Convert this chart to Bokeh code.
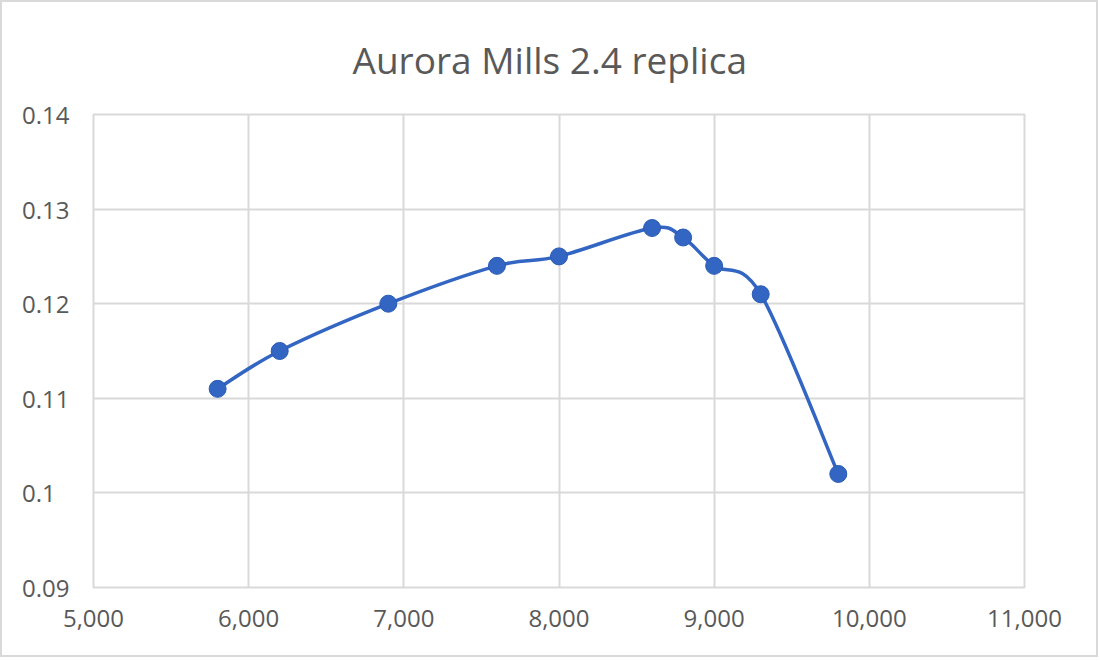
from bokeh.plotting import figure
from bokeh.embed import file_html
from bokeh.resources import INLINE
from bokeh.models import FixedTicker, NumeralTickFormatter, Range1d

title_text = "Aurora Mills 2.4 replica"
rpm = [5800, 6200, 6900, 7600, 8000, 8600, 8800, 9000, 9300, 9800]
value = [0.111, 0.115, 0.120, 0.124, 0.125, 0.128, 0.127, 0.124, 0.121, 0.102]
x_ticks = [5000, 6000, 7000, 8000, 9000, 10000, 11000]
y_ticks = [0.09, 0.10, 0.11, 0.12, 0.13, 0.14]

FONT = "Open Sans"
GRID = "#d9d9d9"
TXT = "#595959"
BLUE = "#3266c2"

p = figure(width=1098, height=657, output_backend="svg", toolbar_location=None,
           x_range=Range1d(5000, 11000), y_range=Range1d(0.09, 0.14),
           min_border_left=91, min_border_right=76, min_border_top=112, min_border_bottom=72)
p.styles = {"border": "2px solid #d9d9d9", "box-sizing": "border-box"}

p.title.text = title_text
p.title.align = "left"
p.title.text_font = FONT
p.title.text_font_size = "37px"
p.title.text_font_style = "normal"
p.title.text_color = TXT
p.title.offset = 259
p.title.standoff = 59

p.outline_line_color = GRID
p.outline_line_width = 2

p.xaxis.ticker = FixedTicker(ticks=x_ticks)
p.yaxis.ticker = FixedTicker(ticks=y_ticks)
p.xaxis.formatter = NumeralTickFormatter(format="0,0")
p.yaxis.major_label_overrides = {0.1: "0.1\u2007"}
for ax in (p.xaxis, p.yaxis):
    ax.axis_line_color = None
    ax.major_tick_line_color = None
    ax.minor_tick_line_color = None
    ax.major_label_text_font = FONT
    ax.major_label_text_font_size = "24px"
    ax.major_label_text_color = TXT
p.xaxis.major_label_standoff = 16
p.yaxis.major_label_standoff = 18

p.xgrid.grid_line_color = GRID
p.ygrid.grid_line_color = GRID
p.xgrid.grid_line_width = 2
p.ygrid.grid_line_width = 2

# smoothed line (Catmull-Rom style bezier segments, like a spreadsheet "smoothed line")
n = len(rpm)
x0, y0, x1, y1, cx0, cy0, cx1, cy1 = [], [], [], [], [], [], [], []
for i in range(n - 1):
    pm = max(i - 1, 0)
    pp = min(i + 2, n - 1)
    x0.append(rpm[i]); y0.append(value[i])
    x1.append(rpm[i + 1]); y1.append(value[i + 1])
    cx0.append(rpm[i] + (rpm[i + 1] - rpm[pm]) / 6)
    cy0.append(value[i] + (value[i + 1] - value[pm]) / 6)
    cx1.append(rpm[i + 1] - (rpm[pp] - rpm[i]) / 6)
    cy1.append(value[i + 1] - (value[pp] - value[i]) / 6)
p.bezier(x0=x0, y0=y0, x1=x1, y1=y1, cx0=cx0, cy0=cy0, cx1=cx1, cy1=cy1,
         line_color=BLUE, line_width=3.5)
p.scatter(rpm, value, size=17, fill_color=BLUE, line_color="#2a5bb5", line_width=1)

open("out.html", "w").write(file_html(p, INLINE))
